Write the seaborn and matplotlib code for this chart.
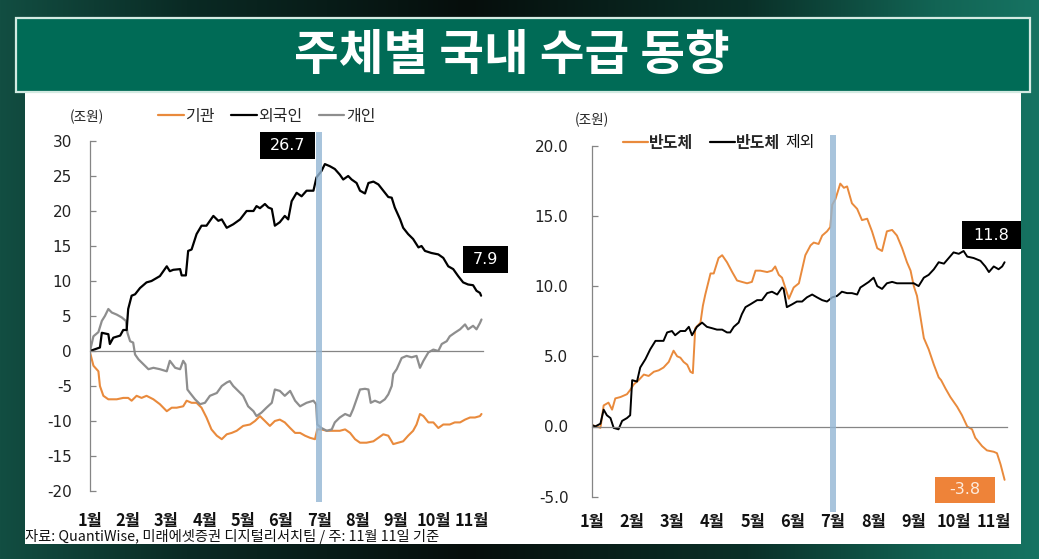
import numpy as np
import pandas as pd
import matplotlib
matplotlib.use("Agg")
import matplotlib.pyplot as plt
import seaborn as sns
from matplotlib.patches import Rectangle
from matplotlib.lines import Line2D

# ---------------- data (x = months since 1 Jan) ----------------
month_labels = ["1월", "2월", "3월", "4월", "5월", "6월", "7월", "8월", "9월", "10월", "11월"]

# Left chart: cumulative net buying by investor type (조원)
foreign_m = [0, 0.26, 0.31, 0.48, 0.52, 0.61, 0.79, 0.87, 0.96, 1.00,
             1.09, 1.18, 1.31, 1.48, 1.61, 1.83, 2.01, 2.09, 2.18, 2.36,
             2.40, 2.51, 2.57, 2.66, 2.79, 2.92, 3.05, 3.23, 3.36, 3.45,
             3.58, 3.75, 3.93, 4.10, 4.28, 4.36, 4.45, 4.58, 4.67, 4.76,
             4.84, 4.97, 5.10, 5.19, 5.28, 5.41, 5.54, 5.67, 5.85, 5.93,
             6.06, 6.15, 6.28, 6.41, 6.54, 6.63, 6.76, 6.85, 6.98, 7.07,
             7.20, 7.29, 7.42, 7.55, 7.68, 7.81, 7.90, 7.98, 8.12, 8.20,
             8.33, 8.46, 8.60, 8.68, 8.77, 8.94, 9.12, 9.25, 9.38, 9.51,
             9.64, 9.77, 9.90, 10.03, 10.12, 10.21, 10.24]
foreign_v = [0, 0.5, 2.6, 2.4, 1.0, 1.9, 2.2, 3.0, 3.0, 6.0,
             7.9, 8.1, 9.0, 9.8, 10.0, 10.7, 12.1, 11.4, 11.6, 11.7,
             10.8, 10.8, 14.3, 14.5, 16.7, 17.9, 17.9, 19.3, 18.6, 18.8,
             17.6, 18.1, 18.8, 20.0, 20.0, 20.7, 20.4, 21.0, 20.5, 20.3,
             17.9, 18.4, 19.3, 18.8, 21.4, 22.6, 22.1, 22.9, 22.9, 24.8,
             25.7, 26.7, 26.4, 26.0, 25.2, 24.5, 25.0, 24.5, 24.0, 22.9,
             22.5, 24.0, 24.2, 23.8, 22.9, 22.0, 21.9, 20.5, 18.8, 17.6,
             16.7, 16.0, 14.8, 15.0, 14.3, 14.0, 13.8, 13.3, 12.1, 11.7,
             10.7, 9.8, 9.5, 9.4, 8.6, 8.3, 7.9]

retail_m = [0, 0.09, 0.22, 0.31, 0.39, 0.48, 0.57, 0.70, 0.83, 0.94,
            0.98, 1.05, 1.13, 1.18, 1.27, 1.40, 1.53, 1.66, 1.83, 2.01,
            2.09, 2.23, 2.36, 2.44, 2.50, 2.55, 2.62, 2.75, 2.88, 3.01,
            3.14, 3.32, 3.45, 3.58, 3.66, 3.75, 3.88, 4.01, 4.14, 4.28,
            4.36, 4.49, 4.62, 4.76, 4.84, 4.97, 5.10, 5.24, 5.37, 5.50,
            5.67, 5.85, 5.92, 5.95, 6.06, 6.20, 6.33, 6.41, 6.54, 6.68,
            6.81, 6.89, 6.98, 7.07, 7.20, 7.29, 7.35, 7.46, 7.59, 7.72,
            7.81, 7.90, 7.94, 8.03, 8.16, 8.29, 8.42, 8.55, 8.64, 8.73,
            8.86, 8.99, 9.12, 9.21, 9.34, 9.42, 9.55, 9.69, 9.82, 9.90,
            10.03, 10.12, 10.21, 10.25]
retail_v = [0, 2.1, 2.7, 4.3, 5.0, 6.0, 5.5, 5.2, 4.8, 4.3,
            2.6, 1.4, 1.2, -0.5, -1.2, -1.9, -2.6, -2.4, -2.6, -2.9,
            -1.4, -2.4, -2.6, -1.4, -1.9, -5.5, -6.0, -6.9, -7.6, -7.4,
            -6.4, -6.0, -5.0, -4.5, -4.3, -5.0, -5.7, -6.4, -7.9, -8.6,
            -9.3, -8.8, -8.1, -7.4, -5.5, -5.7, -6.4, -5.7, -7.1, -7.9,
            -7.4, -7.1, -7.6, -10.5, -11.0, -11.4, -11.2, -10.2, -9.5, -9.0,
            -9.3, -8.3, -6.9, -5.5, -5.4, -5.5, -7.4, -7.1, -7.4, -6.9,
            -6.2, -5.0, -3.3, -2.6, -1.0, -0.7, -0.9, -0.7, -2.4, -1.4,
            -0.2, 0.2, 0.0, 1.0, 1.4, 2.1, 2.6, 3.1, 3.8, 3.1,
            3.6, 3.1, 4.0, 4.5]

inst_m = [0, 0.09, 0.22, 0.26, 0.35, 0.48, 0.70, 0.87, 1.00, 1.09,
          1.22, 1.35, 1.48, 1.66, 1.83, 2.01, 2.14, 2.27, 2.44, 2.53,
          2.66, 2.79, 2.92, 3.05, 3.18, 3.32, 3.45, 3.58, 3.71, 3.84,
          4.01, 4.19, 4.32, 4.45, 4.58, 4.71, 4.84, 4.97, 5.10, 5.24,
          5.37, 5.50, 5.63, 5.76, 5.89, 5.95, 6.06, 6.20, 6.41, 6.54,
          6.68, 6.81, 6.94, 7.07, 7.24, 7.42, 7.55, 7.68, 7.81, 7.94,
          8.07, 8.20, 8.33, 8.46, 8.55, 8.64, 8.73, 8.86, 8.99, 9.12,
          9.25, 9.42, 9.55, 9.69, 9.82, 9.95, 10.08, 10.21, 10.25]
inst_v = [-0.2, -2.1, -2.9, -5.0, -6.4, -6.9, -6.9, -6.7, -6.7, -7.1,
          -6.4, -6.7, -6.4, -6.9, -7.6, -8.6, -8.1, -8.1, -7.9, -7.1,
          -7.4, -7.4, -8.1, -9.5, -11.2, -12.1, -12.6, -11.9, -11.7, -11.4,
          -10.7, -10.5, -10.0, -9.3, -10.0, -10.7, -10.0, -9.8, -10.2, -11.0,
          -11.7, -11.7, -12.1, -12.4, -12.6, -11.2, -11.2, -11.4, -11.4, -11.4,
          -11.2, -11.7, -12.6, -13.1, -13.1, -12.9, -12.4, -11.9, -12.1, -13.3,
          -13.1, -12.9, -12.1, -11.4, -10.5, -9.0, -9.3, -10.2, -10.2, -11.0,
          -10.5, -10.5, -10.2, -10.2, -9.8, -9.5, -9.5, -9.3, -9.0]

# Right chart: foreign cumulative net buying, semiconductor vs ex-semiconductor (조원)
semi_m = [0, 0.12, 0.21, 0.29, 0.41, 0.50, 0.58, 0.71, 0.87, 0.95,
          1.04, 1.16, 1.29, 1.41, 1.54, 1.66, 1.78, 1.91, 2.03, 2.12,
          2.20, 2.28, 2.37, 2.45, 2.51, 2.57, 2.70, 2.76, 2.82, 2.95,
          3.03, 3.15, 3.24, 3.36, 3.49, 3.61, 3.73, 3.86, 3.98, 4.07,
          4.19, 4.36, 4.48, 4.56, 4.65, 4.73, 4.81, 4.90, 5.02, 5.15,
          5.23, 5.31, 5.44, 5.52, 5.64, 5.73, 5.85, 5.93, 5.98, 6.06,
          6.18, 6.27, 6.35, 6.47, 6.60, 6.72, 6.85, 6.97, 7.10, 7.22,
          7.34, 7.47, 7.59, 7.72, 7.84, 7.93, 8.01, 8.09, 8.17, 8.26,
          8.38, 8.51, 8.63, 8.69, 8.80, 8.92, 9.09, 9.21, 9.34, 9.46,
          9.54, 9.71, 9.83, 10.00, 10.08, 10.17, 10.27]
semi_v = [0.1, 0, -0.1, 1.5, 1.7, 1.2, 2.0, 2.1, 2.3, 2.6,
          3.0, 3.3, 3.7, 3.6, 3.9, 4.0, 4.2, 4.6, 5.4, 5.0,
          4.9, 4.6, 4.4, 3.9, 3.8, 7.0, 7.4, 8.6, 9.4, 10.9,
          10.9, 12.0, 12.2, 11.7, 11.0, 10.4, 10.3, 10.2, 10.3, 11.1,
          11.1, 11.0, 11.1, 11.4, 10.8, 10.6, 9.9, 9.1, 9.9, 10.2,
          11.2, 12.2, 12.9, 13.1, 13.0, 13.6, 13.9, 14.2, 15.8, 16.2,
          17.3, 17.0, 17.1, 15.9, 15.5, 14.7, 14.8, 13.9, 12.7, 12.5,
          13.9, 14.0, 13.6, 12.7, 11.7, 11.1, 10.0, 9.3, 7.9, 6.3,
          5.5, 4.4, 3.5, 3.3, 2.7, 2.1, 1.4, 0.8, 0, -0.2,
          -0.8, -1.4, -1.7, -1.8, -1.9, -2.7, -3.8]

exsemi_m = [0, 0.08, 0.21, 0.29, 0.37, 0.46, 0.54, 0.66, 0.75, 0.87,
            0.95, 1.00, 1.12, 1.20, 1.33, 1.45, 1.58, 1.78, 1.87, 1.99,
            2.07, 2.20, 2.32, 2.41, 2.49, 2.61, 2.74, 2.86, 2.99, 3.11,
            3.24, 3.36, 3.44, 3.53, 3.65, 3.73, 3.82, 3.94, 4.11, 4.23,
            4.36, 4.48, 4.61, 4.73, 4.77, 4.85, 4.98, 5.10, 5.23, 5.35,
            5.48, 5.60, 5.73, 5.85, 5.98, 6.10, 6.22, 6.35, 6.47, 6.60,
            6.68, 6.76, 6.89, 7.01, 7.10, 7.22, 7.34, 7.47, 7.59, 7.76,
            7.88, 8.01, 8.13, 8.26, 8.38, 8.51, 8.63, 8.76, 8.88, 9.00,
            9.13, 9.25, 9.34, 9.50, 9.67, 9.79, 9.88, 10.00, 10.12, 10.21,
            10.27]
exsemi_v = [0.1, 0, 0.2, 1.2, 0.8, 0.6, -0.1, -0.2, 0.4, 0.6,
            0.8, 3.3, 3.2, 4.2, 4.8, 5.5, 6.1, 6.1, 6.7, 6.8,
            6.5, 6.8, 6.8, 7.1, 6.5, 7.1, 7.4, 7.1, 7.0, 6.9,
            6.9, 6.7, 6.7, 7.1, 7.4, 8.0, 8.5, 8.7, 9.0, 9.0,
            9.5, 9.6, 9.4, 9.9, 9.8, 8.5, 8.7, 8.9, 8.9, 9.2,
            9.4, 9.2, 9.0, 8.9, 9.2, 9.3, 9.6, 9.5, 9.5, 9.4,
            9.9, 10.05, 10.3, 10.6, 10.0, 9.8, 10.2, 10.3, 10.2, 10.2,
            10.2, 10.2, 10.0, 10.6, 10.8, 11.2, 11.7, 11.6, 12.0, 12.4,
            12.3, 12.5, 12.1, 12.0, 11.8, 11.4, 11.0, 11.4, 11.2, 11.4,
            11.7]

event_month = 6          # 7월 (highlight band)
left_labels = ["26.7", "7.9"]
right_labels = ["11.8", "-3.8"]

# ---------------- style ----------------
sns.set_theme(style="white")
plt.rcParams["font.family"] = ["Noto Sans CJK KR", "DejaVu Sans"]
plt.rcParams["axes.unicode_minus"] = False

ORANGE = "#E98A3C"
GRAY = "#8E8E8E"
BLACK = "#000000"
AXC = "#858585"
BAND = "#93B6D4"
NUMFONT = "DejaVu Sans"

W, H = 1039, 559
fig = plt.figure(figsize=(W / 100, H / 100), dpi=100)


def fx(px):
    return px / W


def fy(py):
    return 1 - py / H


# background gradient
bg = fig.add_axes([0, 0, 1, 1], zorder=-10)
xs = np.linspace(0, 1, W)
stops = [0.0, 0.18, 0.45, 0.72, 0.9, 1.0]
cols = np.array([[18, 78, 66], [10, 42, 36], [6, 14, 12], [10, 48, 40], [18, 100, 84], [22, 115, 98]]) / 255
rgb = np.stack([np.interp(xs, stops, cols[:, k]) for k in range(3)], axis=-1)
img = np.repeat(rgb[None, :, :], H, axis=0)
bg.imshow(img, aspect="auto", extent=[0, 1, 0, 1])
bg.set_axis_off()

# white panel and title banner
fig.add_artist(Rectangle((fx(25), fy(544)), fx(996), (544 - 92) / H, transform=fig.transFigure,
                         facecolor="white", edgecolor="none", zorder=-5))
fig.add_artist(Rectangle((fx(16), fy(92)), fx(1014), (92 - 18) / H, transform=fig.transFigure,
                         facecolor="#006B56", edgecolor="#d3eae2", lw=1.6, zorder=-4))
fig.text(fx(512), fy(55), "주체별 국내 수급 동향", color="white", fontsize=35, fontweight="bold",
         ha="center", va="center")


def style_axes(ax, xmax, ymin, ymax, yticks, fmt, pad, label_y):
    ax.set_facecolor("none")
    ax.set_xlim(0, xmax)
    ax.set_ylim(ymin, ymax)
    for s in ["top", "right"]:
        ax.spines[s].set_visible(False)
    ax.spines["left"].set_color(AXC)
    ax.spines["left"].set_linewidth(0.9)
    ax.spines["bottom"].set_position(("data", 0))
    ax.spines["bottom"].set_color(AXC)
    ax.spines["bottom"].set_linewidth(0.9)
    ax.set_xticks(range(len(month_labels)))
    ax.tick_params(axis="x", direction="in", length=4, width=0.9, color=AXC, labelbottom=False)
    ax.set_yticks(yticks)
    ax.set_yticklabels([fmt.format(v) for v in yticks], fontfamily=NUMFONT, fontsize=11, color="#222222")
    ax.tick_params(axis="y", direction="in", length=4, width=0.9, color=AXC, pad=pad, left=True)
    ax.set_xlabel("")
    ax.set_ylabel("")
    ax.grid(False)
    for i, lab in enumerate(month_labels):
        ax.text(i, label_y, lab, transform=ax.get_xaxis_transform(), ha="center", va="center",
                fontsize=11.8, fontweight="bold", color="#111111")


# ---------------- left chart ----------------
ax1 = fig.add_axes([fx(90), fy(491), fx(393), (491 - 141) / H])
sns.lineplot(x=inst_m, y=inst_v, ax=ax1, color=ORANGE, lw=1.5, estimator=None, sort=False)
sns.lineplot(x=retail_m, y=retail_v, ax=ax1, color=GRAY, lw=1.6, estimator=None, sort=False)
sns.lineplot(x=foreign_m, y=foreign_v, ax=ax1, color=BLACK, lw=1.6, estimator=None, sort=False)
style_axes(ax1, 10.29, -20, 30, list(range(-20, 31, 5)), "{:d}", 13, -0.086)
ax1.axvspan(event_month - 0.085, event_month + 0.085, ymin=-0.032, ymax=1.026, color=BAND,
            alpha=0.8, lw=0, clip_on=False, zorder=5)

# ---------------- right chart ----------------
ax2 = fig.add_axes([fx(592), fy(496.7), fx(415), (496.7 - 145.7) / H])
sns.lineplot(x=semi_m, y=semi_v, ax=ax2, color=ORANGE, lw=1.4, estimator=None, sort=False)
sns.lineplot(x=exsemi_m, y=exsemi_v, ax=ax2, color=BLACK, lw=1.4, estimator=None, sort=False)
style_axes(ax2, 10.33, -5, 20, [-5, 0, 5, 10, 15, 20], "{:.1f}", 17, -0.072)
ax2.axvspan(event_month - 0.083, event_month + 0.083, ymin=-0.044, ymax=1.030, color=BAND,
            alpha=0.8, lw=0, clip_on=False, zorder=5)

# ---------------- value boxes ----------------
boxes = [
    (260, 315, 132, 159, left_labels[0], "black", "white"),
    (463, 508, 246, 273, left_labels[1], "black", "white"),
    (962, 1021, 221, 249, right_labels[0], "black", "white"),
    (935, 995, 477, 503, right_labels[1], "#EE8339", "#FDEBDD"),
]
for x0, x1, y0, y1, txt, fc, tc in boxes:
    fig.add_artist(Rectangle((fx(x0), fy(y1)), fx(x1 - x0), (y1 - y0) / H, transform=fig.transFigure,
                             facecolor=fc, edgecolor="none", zorder=6))
    fig.text(fx((x0 + x1) / 2), fy((y0 + y1) / 2), txt, color=tc, fontsize=11.5, fontfamily=NUMFONT,
             ha="center", va="center", zorder=7)

# ---------------- units and legends ----------------
fig.text(fx(87), fy(117), "(조원)", fontsize=9.8, ha="center", va="center", color="#222222")
fig.text(fx(592), fy(120), "(조원)", fontsize=9.8, ha="center", va="center", color="#222222")

h1 = [Line2D([], [], color=ORANGE, lw=1.6), Line2D([], [], color=BLACK, lw=1.6), Line2D([], [], color=GRAY, lw=1.6)]
fig.legend(h1, ["기관", "외국인", "개인"], loc="center left", bbox_to_anchor=(fx(158), fy(116)), ncol=3,
           frameon=False, fontsize=11.5, handlelength=1.6, handletextpad=0.12, columnspacing=1.0,
           borderpad=0, borderaxespad=0)

h2 = [Line2D([], [], color=ORANGE, lw=1.6), Line2D([], [], color=BLACK, lw=1.6)]
leg2 = fig.legend(h2, ["반도체", "반도체"], loc="center left", bbox_to_anchor=(fx(623), fy(143)), ncol=2,
                  frameon=False, prop={"size": 11.5, "weight": "bold"}, handlelength=1.55,
                  handletextpad=0.05, columnspacing=1.1, borderpad=0, borderaxespad=0)
fig.canvas.draw()
bb = leg2.get_texts()[1].get_window_extent(fig.canvas.get_renderer())
fig.text(bb.x1 / W + fx(5), fy(143), "제외", fontsize=11.5, ha="left", va="center", color="#111111")

fig.text(fx(25), fy(537), "자료: QuantiWise, 미래에셋증권 디지털리서치팀 / 주: 11월 11일 기준",
         fontsize=10.3, ha="left", va="center", color="#111111")

fig.savefig("out.png", dpi=100)
